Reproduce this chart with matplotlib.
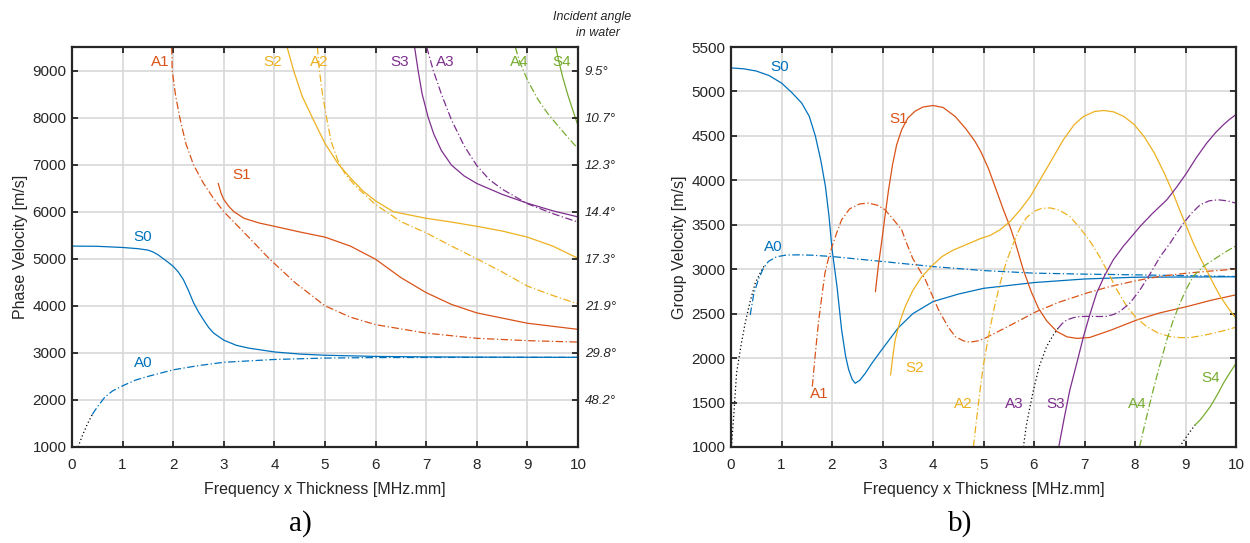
import matplotlib
matplotlib.use('Agg')
import matplotlib.pyplot as plt

plt.rcParams['font.family'] = ['Liberation Sans', 'DejaVu Sans']

# MATLAB default line colours
C_BLUE = '#0072BD'
C_ORANGE = '#D95319'
C_YELLOW = '#EDB120'
C_PURPLE = '#7E2F8E'
C_GREEN = '#77AC30'

# ---------------- a) phase velocity (fd in MHz.mm, velocity in m/s) ----------------
ph_s0_fd = [0, 0.5, 1.0, 1.3, 1.5, 1.6, 1.7, 1.8, 1.9, 2.0, 2.1, 2.2, 2.3, 2.4, 2.5, 2.6,
            2.7, 2.8, 3.0, 3.25, 3.5, 4.0, 4.5, 5.0, 6.0, 7.0, 8.0, 10.0]
ph_s0_v = [5270, 5265, 5240, 5215, 5185, 5145, 5085, 5005, 4925, 4840, 4720, 4560, 4330,
           4070, 3870, 3700, 3540, 3420, 3270, 3160, 3100, 3020, 2975, 2950, 2925, 2915,
           2910, 2905]

ph_a0_dot_fd = [0.12, 0.2, 0.3, 0.4]
ph_a0_dot_v = [1000, 1230, 1480, 1690]
ph_a0_fd = [0.4, 0.5, 0.65, 0.8, 1.0, 1.25, 1.5, 2.0, 2.5, 3.0, 4.0, 5.0, 6.0, 8.0, 10.0]
ph_a0_v = [1690, 1850, 2060, 2190, 2300, 2420, 2500, 2640, 2730, 2800, 2860, 2890, 2900, 2905, 2905]

ph_a1_fd = [1.97, 1.98, 2.05, 2.13, 2.25, 2.4, 2.6, 2.8, 3.0, 3.4, 3.9, 4.4, 5.0, 5.5, 6.0,
            7.0, 8.0, 9.0, 10.0]
ph_a1_v = [9500, 9000, 8450, 8000, 7450, 7000, 6600, 6280, 6000, 5560, 5000, 4500, 4000, 3760,
           3600, 3420, 3310, 3260, 3230]

ph_s1_fd = [2.89, 2.95, 3.0, 3.1, 3.2, 3.4, 3.7, 4.0, 4.5, 5.0, 5.5, 6.0, 6.5, 7.0, 7.5, 8.0,
            9.0, 10.0]
ph_s1_v = [6600, 6380, 6260, 6110, 6000, 5860, 5760, 5690, 5570, 5460, 5270, 4990, 4600, 4280,
           4030, 3850, 3630, 3500]

ph_s2_fd = [4.25, 4.38, 4.55, 4.75, 5.0, 5.27, 5.5, 5.75, 6.0, 6.35, 7.0, 7.5, 8.0, 8.5, 9.0,
            9.5, 10.0]
ph_s2_v = [9500, 9000, 8450, 8000, 7450, 7000, 6720, 6440, 6230, 6000, 5860, 5780, 5690, 5590,
           5460, 5270, 5010]

ph_a2_fd = [4.85, 4.89, 4.95, 5.03, 5.12, 5.25, 5.4, 5.6, 6.0, 6.5, 7.0, 7.5, 8.0, 8.5, 9.0,
            9.5, 10.0]
ph_a2_v = [9500, 9000, 8500, 8000, 7500, 7100, 6800, 6550, 6150, 5790, 5550, 5270, 5000, 4720,
           4420, 4220, 4040]

ph_s3_fd = [6.77, 6.84, 6.92, 7.04, 7.15, 7.3, 7.5, 7.75, 8.0, 8.5, 9.0, 9.5, 10.0]
ph_s3_v = [9500, 9000, 8500, 8000, 7650, 7300, 6990, 6760, 6600, 6370, 6180, 6020, 5890]

ph_a3_fd = [7.01, 7.14, 7.3, 7.5, 7.75, 8.0, 8.25, 8.5, 9.0, 9.5, 10.0]
ph_a3_v = [9500, 9000, 8500, 7950, 7400, 6980, 6680, 6480, 6170, 5960, 5780]

ph_a4_fd = [8.76, 8.85, 9.0, 9.2, 9.4, 9.6, 9.8, 10.0]
ph_a4_v = [9500, 9180, 8800, 8400, 8090, 7830, 7580, 7340]

ph_s4_fd = [9.56, 9.62, 9.7, 9.8, 9.9, 10.0]
ph_s4_v = [9500, 9200, 8850, 8480, 8150, 7830]

angle_v = [2000, 3000, 4000, 5000, 6000, 7000, 8000, 9000]
angle_labels = ['48.2°', '29.8°', '21.9°', '17.3°', '14.4°', '12.3°', '10.7°', '9.5°']

# ---------------- b) group velocity ----------------
gr_s0_fd = [0, 0.25, 0.5, 0.75, 1.0, 1.2, 1.4, 1.55, 1.67, 1.78, 1.87, 1.94, 2.0, 2.1, 2.19,
            2.27, 2.33, 2.4, 2.46, 2.55, 2.66, 2.8, 2.98, 3.31, 3.6, 4.0, 4.5, 5.0, 6.0, 7.0,
            8.0, 10.0]
gr_s0_v = [5265, 5255, 5230, 5180, 5095, 4990, 4870, 4720, 4500, 4220, 3930, 3600, 3230, 2800,
           2320, 2020, 1870, 1760, 1717, 1750, 1830, 1950, 2090, 2340, 2500, 2636, 2720, 2785,
           2850, 2890, 2910, 2915]

gr_a0_dot_fd = [0.01, 0.06, 0.11, 0.2, 0.28, 0.38, 0.48, 0.58, 0.67]
gr_a0_dot_v = [1000, 1400, 1830, 2150, 2393, 2640, 2843, 2960, 3050]
gr_a0_fd = [0.38, 0.45, 0.54, 0.64, 0.74, 0.9, 1.1, 1.33, 1.6, 2.0, 2.5, 3.0, 4.0, 5.0, 6.0,
            7.0, 8.0, 9.0, 10.0]
gr_a0_v = [2486, 2720, 2880, 3010, 3087, 3140, 3160, 3162, 3158, 3143, 3115, 3087, 3030, 2985,
           2956, 2945, 2937, 2928, 2918]

gr_a1_fd = [1.61, 1.67, 1.73, 1.8, 1.86, 1.93, 2.0, 2.1, 2.19, 2.35, 2.55, 2.72, 2.9, 3.05,
            3.2, 3.38, 3.45, 3.6, 3.85, 4.11, 4.3, 4.44, 4.6, 4.73, 4.9, 5.03, 5.5, 6.05, 6.5,
            7.04, 7.5, 8.04, 8.5, 9.03, 9.5, 10.0]
gr_a1_v = [1680, 2050, 2393, 2700, 2956, 3120, 3256, 3420, 3556, 3680, 3735, 3744, 3720, 3669,
           3570, 3444, 3331, 3120, 2880, 2543, 2350, 2242, 2195, 2179, 2195, 2224, 2360, 2524,
           2630, 2731, 2805, 2873, 2920, 2956, 2980, 3001]

gr_s1_fd = [2.86, 2.92, 2.98, 3.05, 3.12, 3.2, 3.28, 3.38, 3.5, 3.64, 3.8, 4.0, 4.2, 4.44,
            4.65, 4.83, 4.95, 5.1, 5.26, 5.4, 5.53, 5.63, 5.79, 5.95, 6.09, 6.25, 6.45, 6.65,
            6.85, 7.1, 7.5, 8.04, 8.5, 9.03, 9.5, 10.0]
gr_s1_v = [2749, 3050, 3294, 3600, 3894, 4180, 4400, 4570, 4700, 4776, 4825, 4842, 4820, 4718,
           4580, 4440, 4320, 4130, 3880, 3660, 3470, 3300, 2990, 2740, 2560, 2420, 2300, 2240,
           2222, 2232, 2310, 2430, 2510, 2580, 2650, 2712]

gr_s2_fd = [3.16, 3.2, 3.25, 3.35, 3.45, 3.6, 3.78, 4.0, 4.18, 4.4, 4.65, 4.93, 5.13, 5.33,
            5.53, 5.73, 5.93, 6.12, 6.35, 6.58, 6.8, 6.98, 7.2, 7.38, 7.58, 7.78, 7.98, 8.18,
            8.38, 8.58, 8.75, 8.91, 9.05, 9.15, 9.3, 9.43, 9.56, 9.69, 9.85, 10.0]
gr_s2_v = [1811, 2000, 2205, 2420, 2580, 2760, 2918, 3050, 3143, 3215, 3275, 3343, 3380, 3444,
           3540, 3669, 3820, 4006, 4230, 4456, 4630, 4718, 4775, 4786, 4770, 4718, 4630, 4493,
           4310, 4081, 3860, 3631, 3440, 3300, 3120, 2974, 2830, 2693, 2560, 2449]

gr_a2_fd = [4.8, 4.85, 4.9, 4.95, 5.0, 5.07, 5.13, 5.23, 5.33, 5.45, 5.59, 5.72, 5.85, 6.0,
            6.15, 6.32, 6.5, 6.71, 6.9, 7.04, 7.15, 7.3, 7.44, 7.64, 7.84, 8.03, 8.23, 8.45,
            8.69, 8.9, 9.09, 9.3, 9.55, 9.8, 10.0]
gr_a2_v = [1000, 1250, 1490, 1720, 1930, 2150, 2340, 2610, 2843, 3080, 3290, 3460, 3580, 3650,
           3685, 3690, 3665, 3594, 3470, 3369, 3280, 3140, 2993, 2770, 2580, 2450, 2355, 2285,
           2242, 2230, 2231, 2250, 2280, 2315, 2348]

gr_a3_dot_fd = [5.79, 5.85, 5.92, 5.99, 6.1, 6.25, 6.37, 6.48]
gr_a3_dot_v = [1000, 1250, 1450, 1642, 1900, 2130, 2250, 2337]
gr_a3_fd = [6.48, 6.56, 6.65, 6.78, 6.91, 7.1, 7.3, 7.44, 7.57, 7.7, 7.9, 8.1, 8.3, 8.5, 8.69,
            8.83, 8.96, 9.12, 9.29, 9.47, 9.65, 9.82, 10.0]
gr_a3_v = [2337, 2390, 2430, 2455, 2468, 2470, 2468, 2470, 2490, 2524, 2620, 2768, 2950, 3143,
           3290, 3410, 3519, 3630, 3725, 3770, 3781, 3770, 3744]

gr_s3_fd = [6.49, 6.6, 6.71, 6.85, 6.98, 7.1, 7.24, 7.4, 7.57, 7.77, 7.95, 8.1, 8.35, 8.63,
            8.82, 9.02, 9.22, 9.42, 9.6, 9.75, 9.88, 10.0]
gr_s3_v = [1000, 1330, 1642, 1950, 2242, 2480, 2731, 2930, 3106, 3260, 3380, 3481, 3630, 3781,
           3920, 4081, 4260, 4419, 4540, 4625, 4690, 4740]

gr_a4_fd = [8.09, 8.2, 8.36, 8.5, 8.63, 8.76, 8.89, 9.02, 9.15, 9.35, 9.55, 9.78, 10.0]
gr_a4_v = [1000, 1270, 1642, 1940, 2205, 2430, 2618, 2780, 2918, 3030, 3106, 3190, 3264]

gr_s4_dot_fd = [8.88, 9.0, 9.1, 9.19]
gr_s4_dot_v = [1000, 1100, 1180, 1248]
gr_s4_fd = [9.19, 9.3, 9.4, 9.49, 9.58, 9.67, 9.75, 9.85, 9.93, 10.0]
gr_s4_v = [1248, 1310, 1385, 1454, 1540, 1630, 1717, 1810, 1880, 1940]

SOLID = '-'
DASHDOT = (0, (6, 2, 1, 2))
DOT = (0, (1, 2))
LW = 0.9
TXT = '#262626'


def style_axes(ax, ymin, ymax, ystep):
    ax.set_xlim(0, 10)
    ax.set_ylim(ymin, ymax)
    ax.set_xticks(range(0, 11))
    ax.set_yticks(range(1000, ymax + 1, ystep))
    ax.grid(True, color='#d8d8d8', lw=1.2)
    ax.set_axisbelow(True)
    for sp in ax.spines.values():
        sp.set_linewidth(1.6)
        sp.set_color(TXT)
    ax.tick_params(direction='in', top=True, right=True, length=4, width=1.3,
                   labelsize=11, colors=TXT, pad=4)
    ax.tick_params(axis='x', pad=8)
    ax.set_xlabel('Frequency x Thickness [MHz.mm]', fontsize=11.5, color=TXT, labelpad=7)


fig = plt.figure(figsize=(12.5, 5.43), dpi=100)

# ---- a) ----
ax1 = fig.add_axes([0.0576, 0.1768, 0.4048, 0.7366])
style_axes(ax1, 1000, 9500, 1000)
ax1.set_ylabel('Phase Velocity [m/s]', fontsize=11.5, color=TXT, labelpad=3)

ax1.plot(ph_s0_fd, ph_s0_v, color=C_BLUE, lw=LW, ls=SOLID)
ax1.plot(ph_a0_dot_fd, ph_a0_dot_v, color='k', lw=LW, ls=DOT)
ax1.plot(ph_a0_fd, ph_a0_v, color=C_BLUE, lw=LW, ls=DASHDOT)
ax1.plot(ph_a1_fd, ph_a1_v, color=C_ORANGE, lw=LW, ls=DASHDOT)
ax1.plot(ph_s1_fd, ph_s1_v, color=C_ORANGE, lw=LW, ls=SOLID)
ax1.plot(ph_s2_fd, ph_s2_v, color=C_YELLOW, lw=LW, ls=SOLID)
ax1.plot(ph_a2_fd, ph_a2_v, color=C_YELLOW, lw=LW, ls=DASHDOT)
ax1.plot(ph_s3_fd, ph_s3_v, color=C_PURPLE, lw=LW, ls=SOLID)
ax1.plot(ph_a3_fd, ph_a3_v, color=C_PURPLE, lw=LW, ls=DASHDOT)
ax1.plot(ph_a4_fd, ph_a4_v, color=C_GREEN, lw=LW, ls=DASHDOT)
ax1.plot(ph_s4_fd, ph_s4_v, color=C_GREEN, lw=LW, ls=SOLID)

labels_a = [('A1', 1.74, 9190, C_ORANGE), ('S2', 3.97, 9190, C_YELLOW),
            ('A2', 4.88, 9190, C_YELLOW), ('S3', 6.48, 9190, C_PURPLE),
            ('A3', 7.37, 9190, C_PURPLE), ('A4', 8.83, 9190, C_GREEN),
            ('S4', 9.68, 9190, C_GREEN), ('S1', 3.36, 6770, C_ORANGE),
            ('S0', 1.40, 5470, C_BLUE), ('A0', 1.40, 2790, C_BLUE)]
for name, x, y, c in labels_a:
    ax1.text(x, y, name, color=c, fontsize=11, ha='center', va='center')

ax1r = ax1.twinx()
ax1r.set_ylim(1000, 9500)
ax1r.set_yticks(angle_v)
ax1r.set_yticklabels(angle_labels, fontstyle='italic', fontsize=9.5)
ax1r.tick_params(direction='in', length=4, width=1.3, colors=TXT, pad=5)
for sp in ax1r.spines.values():
    sp.set_visible(False)

fig.text(592 / 1250, 1 - 17 / 543, 'Incident angle', fontsize=9, fontstyle='italic',
         ha='center', va='center', color=TXT)
fig.text(598 / 1250, 1 - 33 / 543, 'in water', fontsize=9, fontstyle='italic',
         ha='center', va='center', color=TXT)

# ---- b) ----
ax2 = fig.add_axes([0.5848, 0.1768, 0.404, 0.7366])
style_axes(ax2, 1000, 5500, 500)
ax2.set_ylabel('Group Velocity [m/s]', fontsize=11.5, color=TXT, labelpad=3)

ax2.plot(gr_s0_fd, gr_s0_v, color=C_BLUE, lw=LW, ls=SOLID)
ax2.plot(gr_a0_dot_fd, gr_a0_dot_v, color='k', lw=LW, ls=DOT)
ax2.plot(gr_a0_fd, gr_a0_v, color=C_BLUE, lw=LW, ls=DASHDOT)
ax2.plot(gr_a1_fd, gr_a1_v, color=C_ORANGE, lw=LW, ls=DASHDOT)
ax2.plot(gr_s1_fd, gr_s1_v, color=C_ORANGE, lw=LW, ls=SOLID)
ax2.plot(gr_s2_fd, gr_s2_v, color=C_YELLOW, lw=LW, ls=SOLID)
ax2.plot(gr_a2_fd, gr_a2_v, color=C_YELLOW, lw=LW, ls=DASHDOT)
ax2.plot(gr_a3_dot_fd, gr_a3_dot_v, color='k', lw=LW, ls=DOT)
ax2.plot(gr_a3_fd, gr_a3_v, color=C_PURPLE, lw=LW, ls=DASHDOT)
ax2.plot(gr_s3_fd, gr_s3_v, color=C_PURPLE, lw=LW, ls=SOLID)
ax2.plot(gr_a4_fd, gr_a4_v, color=C_GREEN, lw=LW, ls=DASHDOT)
ax2.plot(gr_s4_dot_fd, gr_s4_dot_v, color='k', lw=LW, ls=DOT)
ax2.plot(gr_s4_fd, gr_s4_v, color=C_GREEN, lw=LW, ls=SOLID)

labels_b = [('S0', 0.97, 5275, C_BLUE), ('A0', 0.83, 3255, C_BLUE),
            ('S1', 3.33, 4690, C_ORANGE), ('A1', 1.75, 1597, C_ORANGE),
            ('S2', 3.64, 1890, C_YELLOW), ('A2', 4.59, 1484, C_YELLOW),
            ('A3', 5.6, 1484, C_PURPLE), ('S3', 6.42, 1484, C_PURPLE),
            ('A4', 8.04, 1484, C_GREEN), ('S4', 9.49, 1777, C_GREEN)]
for name, x, y, c in labels_b:
    ax2.text(x, y, name, color=c, fontsize=11, ha='center', va='center')

fig.text(300 / 1250, 1 - 524 / 543, 'a)', fontsize=21, family='Liberation Serif',
         ha='center', va='center')
fig.text(960 / 1250, 1 - 524 / 543, 'b)', fontsize=21, family='Liberation Serif',
         ha='center', va='center')

fig.savefig('out.png', dpi=100, facecolor='white')
